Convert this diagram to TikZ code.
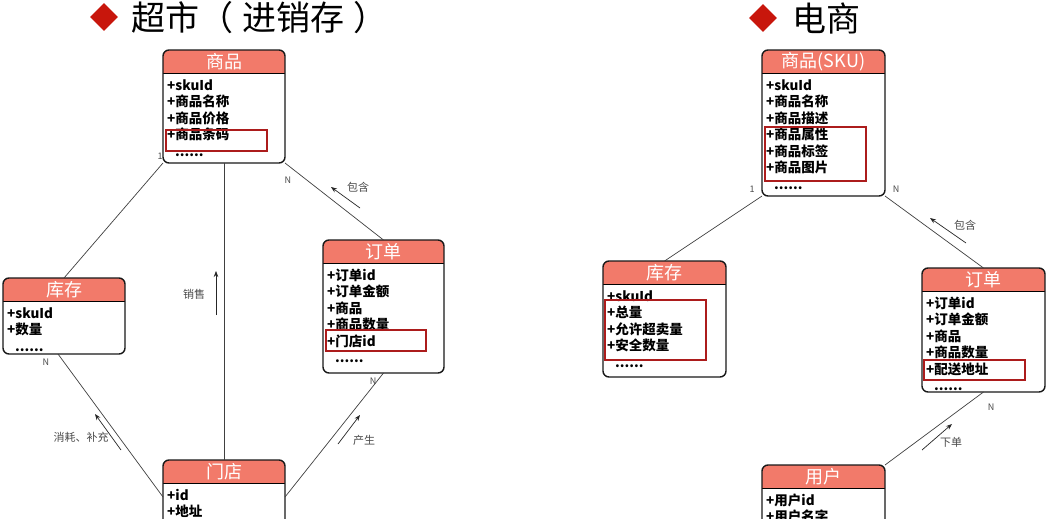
\documentclass[tikz,border=0pt]{standalone}
\usepackage{fontspec}
\setmainfont{Noto Sans CJK SC}
\usetikzlibrary{arrows.meta,calc,shapes.geometric}
\definecolor{hdr}{RGB}{242,122,106}
\definecolor{hl}{RGB}{172,28,28}
\definecolor{lbl}{RGB}{75,75,75}
\definecolor{ttl}{RGB}{200,22,12}
\tikzset{
  box/.style={draw=black!90, line width=1.4pt, rounded corners=6pt, inner sep=0pt, outer sep=0pt},
  hdrtext/.style={text=white, font=\fontsize{18}{20}\selectfont, inner sep=0pt},
  item/.style={anchor=base west, inner sep=0pt, font=\bfseries\fontsize{13.5}{15}\selectfont},
  hlbox/.style={draw=hl, line width=1.8pt},
  conn/.style={draw=black!75, line width=0.7pt},
  relarrow/.style={draw=black!85, line width=0.7pt, -{Stealth[length=6pt,width=4.5pt]}},
  rellabel/.style={text=lbl, font=\fontsize{11}{12}\selectfont, inner sep=0pt},
  mult/.style={text=lbl, font=\fontsize{9}{10}\selectfont, inner sep=0pt},
  ttltext/.style={anchor=west, inner sep=0pt, font=\fontsize{34}{36}\selectfont},
  ttlmark/.style={diamond, fill=ttl, minimum width=28pt, minimum height=28pt, inner sep=0pt}
}
\newcommand\moredots{\hspace*{8pt}......}
\newcommand\erbox[7]{%
  \begin{scope}
    \clip[rounded corners=6pt] (#2,#3) rectangle ++(#4,#5);
    \fill[white] (#2,#3) rectangle ++(#4,#5);
    \fill[hdr] (#2,#3) rectangle ++(#4,23);
  \end{scope}
  \draw[line width=0.9pt] (#2,#3+23) -- ++(#4,0);
  \node[box, minimum width=#4pt, minimum height=#5pt, anchor=north west] (#1) at (#2,#3) {};
  \node[hdrtext] (#1-title) at (#2+#4/2,#3+11.5) {#6};
  \foreach \t [count=\i] in {#7} {\node[item] (#1-\i) at (#2+4,#3+40+\i*16.5-16.5) {\t};}
}
\begin{document}
\begin{tikzpicture}[x=1pt,y=-1pt]
\useasboundingbox (0,0) rectangle (1050,519);
\clip (0,0) rectangle (1050,519);
\fill[white] (0,0) rectangle (1050,519);

% titles
\node[ttlmark] (d1) at (104,17) {};
\node[ttltext] (t1) at (131,18) {超市（\kern9pt进销存\kern9pt）};
\node[ttlmark] (d2) at (763,18) {};
\node[ttltext] (t2) at (792,18) {电商};

% left: supermarket
\erbox{spuA}{163}{50}{122}{113}{商品}{+skuId,+商品名称,+商品价格,+商品条码,\moredots}
\erbox{invA}{3}{278}{122}{76}{库存}{+skuId,+数量,\moredots}
\erbox{ordA}{323}{240}{121}{133}{订单}{+订单id,+订单金额,+商品,+商品数量,+门店id,\moredots}
\erbox{store}{163}{460}{122}{74}{门店}{+id,+地址}

\draw[hlbox] (166,130) rectangle (267,151);
\draw[hlbox] (326,330) rectangle (426,351);

\draw[conn] (spuA.south west) -- (invA.north);
\draw[conn] (spuA.south) -- (store.north);
\draw[conn] (spuA.south east) -- (ordA.north);
\draw[conn] ($(invA.south)+(-6,0)$) -- (store.west);
\draw[conn] (ordA.south) -- (store.east);

\node[mult] (m1) at (160,156) {1};
\node[mult] (m2) at (288,180) {N};
\node[mult] (m3) at (46,362) {N};
\node[mult] (m4) at (373,381) {N};

\coordinate (a1s) at (360,208); \coordinate (a1e) at (331,187);
\coordinate (a2s) at (216,315); \coordinate (a2e) at (216,271);
\coordinate (a3s) at (121,450); \coordinate (a3e) at (95,414);
\coordinate (a4s) at (338,444); \coordinate (a4e) at (360,415);
\draw[relarrow] (a1s) -- (a1e);
\draw[relarrow] (a2s) -- (a2e);
\draw[relarrow] (a3s) -- (a3e);
\draw[relarrow] (a4s) -- (a4e);
\node[rellabel] (r1) at (358,187) {包含};
\node[rellabel] (r2) at (194,294) {销售};
\node[rellabel] (r3) at (81,437) {消耗、补充};
\node[rellabel] (r4) at (364,440) {产生};

% right: e-commerce
\erbox{spuB}{762}{50}{123}{146}{商品(SKU)}{+skuId,+商品名称,+商品描述,+商品属性,+商品标签,+商品图片,\moredots}
\erbox{invB}{603}{261}{123}{116}{库存}{+skuId,+总量,+允许超卖量,+安全数量,\moredots}
\erbox{ordB}{922}{268}{123}{124}{订单}{+订单id,+订单金额,+商品,+商品数量,+配送地址,\moredots}
\erbox{user}{762}{465}{123}{80}{用户}{+用户id,+用户名字}

\draw[hlbox] (765,127) rectangle (866,181);
\draw[hlbox] (605,300) rectangle (706,360);
\draw[hlbox] (924,360) rectangle (1025,380);

\draw[conn] (spuB.south west) -- (invB.north);
\draw[conn] (spuB.south east) -- (ordB.north);
\draw[conn] (ordB.south) -- (user.north east);

\node[mult] (m5) at (752,189) {1};
\node[mult] (m6) at (896,189) {N};
\node[mult] (m7) at (991,407) {N};

\coordinate (a5s) at (966,243); \coordinate (a5e) at (930,218);
\coordinate (a6s) at (922,450); \coordinate (a6e) at (952,424);
\draw[relarrow] (a5s) -- (a5e);
\draw[relarrow] (a6s) -- (a6e);
\node[rellabel] (r5) at (965,225) {包含};
\node[rellabel] (r6) at (951,442) {下单};
\end{tikzpicture}
\end{document}
